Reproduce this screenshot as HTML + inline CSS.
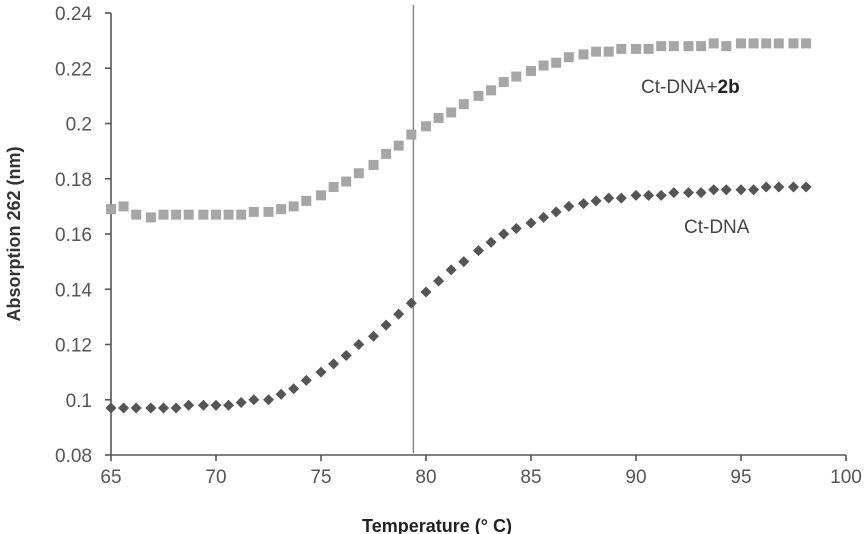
<!DOCTYPE html>
<html><head><meta charset="utf-8"><style>
body{margin:0;background:#fff;}
svg{display:block;font-family:"Liberation Sans",sans-serif;}
</style></head><body>
<svg id="chart" width="867" height="534" viewBox="0 0 867 534" xmlns="http://www.w3.org/2000/svg">
<g id="axes"></g>
<g id="marks"></g>
<text transform="translate(20,234) rotate(-90)" text-anchor="middle" font-size="18" font-weight="bold" fill="#333">Absorption 262 (nm)</text>
<text x="437" y="532" text-anchor="middle" font-size="18" font-weight="bold" fill="#222">Temperature (° C)</text>
<text x="641" y="93" font-size="19" fill="#444">Ct-DNA+<tspan font-weight="bold" fill="#222">2b</tspan></text>
<text x="684" y="233" font-size="19" fill="#444">Ct-DNA</text>
</svg>
<script>
const temps=[65.0,65.6,66.2,66.9,67.5,68.1,68.7,69.4,70.0,70.6,71.2,71.8,72.5,73.1,73.7,74.3,75.0,75.6,76.2,76.8,77.5,78.1,78.7,79.3,80.0,80.6,81.2,81.8,82.5,83.1,83.7,84.3,85.0,85.6,86.2,86.8,87.5,88.1,88.7,89.3,90.0,90.6,91.2,91.8,92.5,93.1,93.7,94.3,95.0,95.6,96.2,96.8,97.5,98.1];
const ctDna=[.097,.097,.097,.097,.097,.097,.098,.098,.098,.098,.099,.100,.100,.102,.104,.107,.110,.113,.116,.120,.123,.127,.131,.135,.139,.143,.147,.150,.154,.157,.160,.162,.164,.166,.168,.170,.171,.172,.173,.173,.174,.174,.174,.175,.175,.175,.176,.176,.176,.176,.177,.177,.177,.177];
const ctDna2b=[.169,.170,.167,.166,.167,.167,.167,.167,.167,.167,.167,.168,.168,.169,.170,.172,.174,.177,.179,.182,.185,.189,.192,.196,.199,.202,.204,.207,.210,.212,.215,.217,.219,.221,.222,.224,.225,.226,.226,.227,.227,.227,.228,.228,.228,.228,.229,.228,.229,.229,.229,.229,.229,.229];
const xTicks=[65,70,75,80,85,90,95,100];
const yTicks=[0.08,0.1,0.12,0.14,0.16,0.18,0.2,0.22,0.24];
const yTickLabels=["0.08","0.1","0.12","0.14","0.16","0.18","0.2","0.22","0.24"];
const markerTemp=79.4;

const NS="http://www.w3.org/2000/svg";
const X=t=>111+(t-65)*21;
const Y=v=>455-(v-0.08)/0.02*55.25;
function mk(tag,attrs,parent){const e=document.createElementNS(NS,tag);for(const k in attrs)e.setAttribute(k,attrs[k]);parent.appendChild(e);return e;}
const axes=document.getElementById('axes'),marks=document.getElementById('marks');
const ya=mk('line',{x1:X(65),x2:X(65),y1:Y(0.24),y2:Y(0.08),stroke:'#555','stroke-width':1.6},axes);


const xa=mk('line',{x1:X(65),x2:X(100),y1:Y(0.08),y2:Y(0.08),stroke:'#555','stroke-width':1.6},axes);


yTicks.forEach((v,i)=>{
  mk('line',{x1:X(65)-6,x2:X(65),y1:Y(v),y2:Y(v),stroke:'#555','stroke-width':1.6},axes);
  const t=mk('text',{x:92,y:Y(v)+7,'text-anchor':'end','font-size':19,fill:'#555'},axes);
  t.textContent=yTickLabels[i];
  
  
});
xTicks.forEach(v=>{
  mk('line',{x1:X(v),x2:X(v),y1:Y(0.08),y2:Y(0.08)+6,stroke:'#555','stroke-width':1.6},axes);
  const t=mk('text',{x:X(v),y:Y(0.08)+28,'text-anchor':'middle','font-size':19,fill:'#555'},axes);
  t.textContent=String(v);
  
  
});
const vl=mk('line',{x1:X(markerTemp),x2:X(markerTemp),y1:5,y2:Y(0.08)-2,stroke:'#888','stroke-width':1.5},axes);


temps.forEach((t,i)=>{
  const x=X(t),y=Y(ctDna2b[i]);
  const r=mk('rect',{x:x-5,y:y-5,width:10,height:10,fill:'#a6a6a6'},marks);
  
  
});
temps.forEach((t,i)=>{
  const x=X(t),y=Y(ctDna[i]);
  const p=mk('path',{d:`M${x} ${y-5.5}L${x+5.5} ${y}L${x} ${y+5.5}L${x-5.5} ${y}Z`,fill:'#555'},marks);
  
  
});
</script>
</body></html>
